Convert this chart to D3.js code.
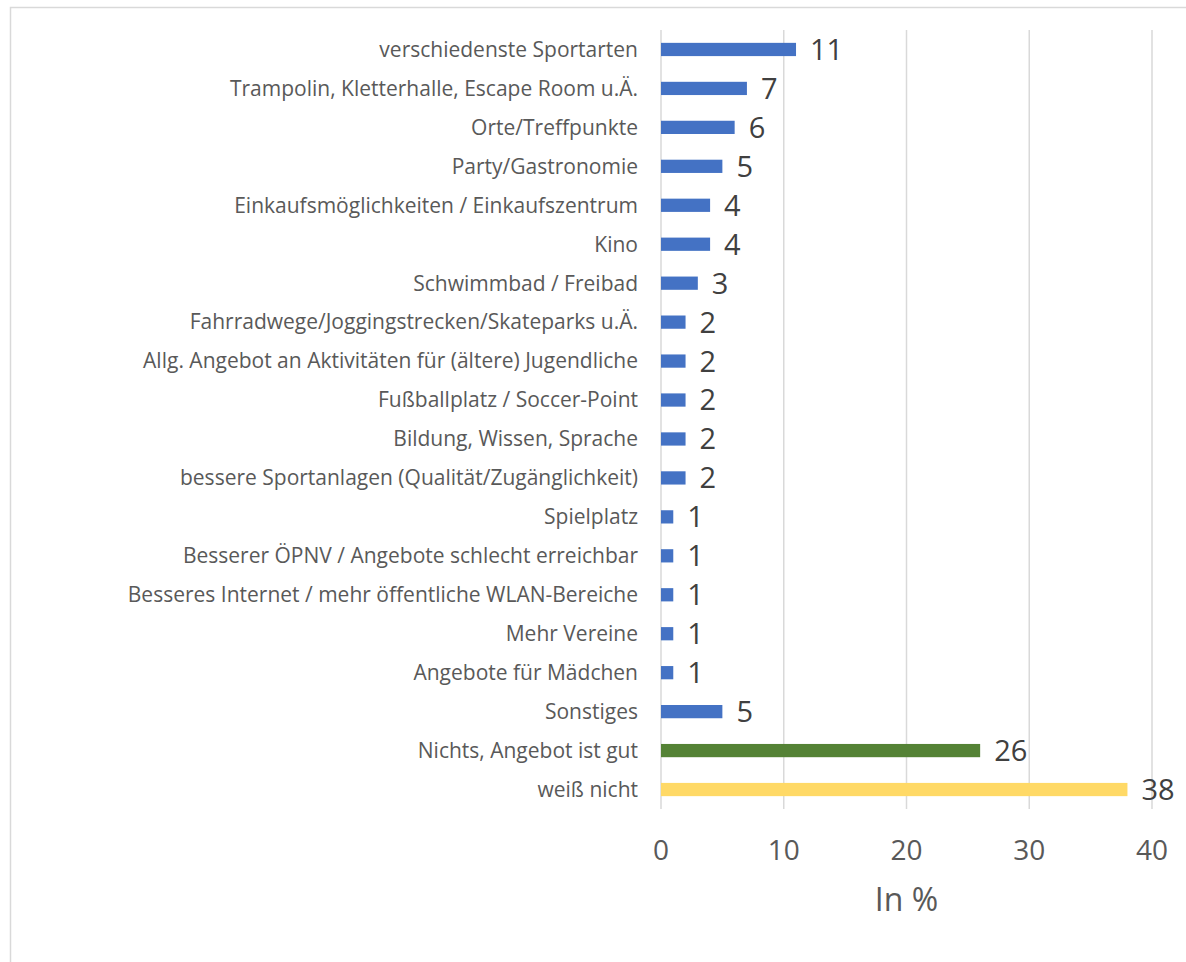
<!DOCTYPE html>
<html>
<head>
<meta charset="utf-8">
<script src="https://cdn.jsdelivr.net/npm/d3@7"></script>
<style>
  html, body { margin: 0; padding: 0; background: #fff; }
  svg { display: block; }
</style>
</head>
<body>
<svg id="chart" width="1186" height="962"></svg>
<script>
// Category labels, top to bottom
const categories = [
  "verschiedenste Sportarten",
  "Trampolin, Kletterhalle, Escape Room u.Ä.",
  "Orte/Treffpunkte",
  "Party/Gastronomie",
  "Einkaufsmöglichkeiten / Einkaufszentrum",
  "Kino",
  "Schwimmbad / Freibad",
  "Fahrradwege/Joggingstrecken/Skateparks u.Ä.",
  "Allg. Angebot an Aktivitäten für (ältere) Jugendliche",
  "Fußballplatz / Soccer-Point",
  "Bildung, Wissen, Sprache",
  "bessere Sportanlagen (Qualität/Zugänglichkeit)",
  "Spielplatz",
  "Besserer ÖPNV / Angebote schlecht erreichbar",
  "Besseres Internet / mehr öffentliche WLAN-Bereiche",
  "Mehr Vereine",
  "Angebote für Mädchen",
  "Sonstiges",
  "Nichts, Angebot ist gut",
  "weiß nicht"
];
// Share of answers in %
const values = [11, 7, 6, 5, 4, 4, 3, 2, 2, 2, 2, 2, 1, 1, 1, 1, 1, 5, 26, 38];
// Answer group of each category
const groups = ["wish","wish","wish","wish","wish","wish","wish","wish","wish","wish",
                "wish","wish","wish","wish","wish","wish","wish","wish","nothing","unknown"];
const xTicks = [0, 10, 20, 30, 40];
const axisTitle = "In %";

const colors = { wish: "#4472C4", nothing: "#548235", unknown: "#FFD966" };

const svg = d3.select("#chart");
const font = "'Open Sans', 'Noto Sans', sans-serif";

// outer frame
svg.append("rect")
  .attr("x", 10.5).attr("y", 7.5)
  .attr("width", 1200).attr("height", 1000)
  .attr("fill", "none").attr("stroke", "#D9D9D9").attr("stroke-width", 1.5);

const plot = { left: 661, right: 1152, top: 30, bottom: 809 };

const x = d3.scaleLinear().domain([0, 40]).range([plot.left, plot.right]);
const y = d3.scaleBand().domain(categories).range([plot.top, plot.bottom]).paddingInner(0.66).paddingOuter(0.33);

// vertical gridlines
svg.append("g").selectAll("line").data(xTicks).join("line")
  .attr("x1", d => x(d)).attr("x2", d => x(d))
  .attr("y1", plot.top).attr("y2", plot.bottom)
  .attr("stroke", "#D9D9D9").attr("stroke-width", 1.5);

// x tick labels
svg.append("g").selectAll("text").data(xTicks).join("text")
  .attr("x", d => x(d)).attr("y", 860)
  .attr("text-anchor", "middle")
  .attr("font-family", font).attr("font-size", 28)
  .attr("fill", "#595959")
  .text(d => d);

// axis title
svg.append("text")
  .attr("x", (plot.left + plot.right) / 2).attr("y", 911)
  .attr("text-anchor", "middle")
  .attr("font-family", font).attr("font-size", 32)
  .attr("fill", "#595959")
  .text(axisTitle);

// category labels
svg.append("g").selectAll("text").data(categories).join("text")
  .attr("x", 638).attr("y", d => y(d) + y.bandwidth() / 2)
  .attr("dy", "0.35em")
  .attr("text-anchor", "end")
  .attr("font-family", font).attr("font-size", 21)
  .attr("fill", "#595959")
  .text(d => d);

// bars
svg.append("g").selectAll("rect").data(values).join("rect")
  .attr("x", x(0))
  .attr("y", (d, i) => y(categories[i]))
  .attr("width", d => x(d) - x(0))
  .attr("height", y.bandwidth())
  .attr("fill", (d, i) => colors[groups[i]]);

// value labels
svg.append("g").selectAll("text").data(values).join("text")
  .attr("x", d => x(d) + 14)
  .attr("y", (d, i) => y(categories[i]) + y.bandwidth() / 2)
  .attr("dy", "0.36em")
  .attr("font-family", font).attr("font-size", 29)
  .attr("fill", "#404040")
  .text(d => d);
</script>
</body>
</html>
